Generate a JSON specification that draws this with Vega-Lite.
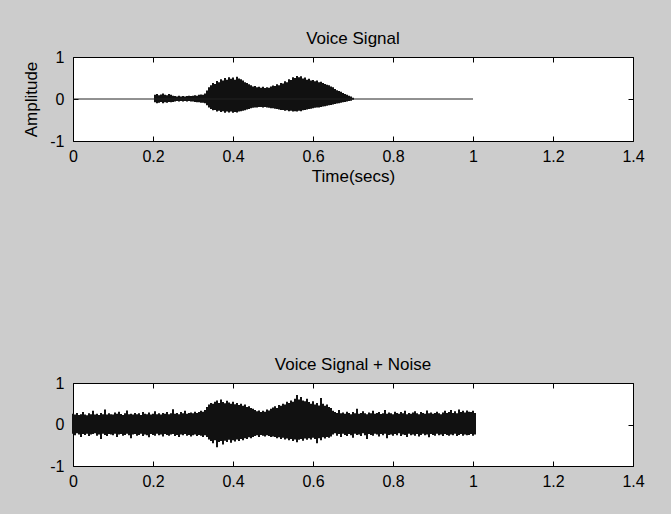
{
  "$schema": "https://vega.github.io/schema/vega-lite/v6.json",
  "background": "#cccccc",
  "padding": {"left": 22, "top": 29, "right": 26, "bottom": 24},
  "spacing": 170,
  "datasets": {
    "sig": [{"t":0.205,"h":0.1,"l":-0.08},{"t":0.21,"h":0.12,"l":-0.1},{"t":0.215,"h":0.09,"l":-0.09},{"t":0.22,"h":0.11,"l":-0.07},{"t":0.225,"h":0.13,"l":-0.1},{"t":0.23,"h":0.1,"l":-0.08},{"t":0.235,"h":0.09,"l":-0.09},{"t":0.24,"h":0.12,"l":-0.07},{"t":0.245,"h":0.1,"l":-0.08},{"t":0.25,"h":0.08,"l":-0.07},
{"t":0.255,"h":0.07,"l":-0.06},{"t":0.26,"h":0.06,"l":-0.05},{"t":0.265,"h":0.08,"l":-0.06},{"t":0.27,"h":0.06,"l":-0.05},{"t":0.275,"h":0.07,"l":-0.06},{"t":0.28,"h":0.06,"l":-0.05},{"t":0.285,"h":0.07,"l":-0.06},{"t":0.29,"h":0.08,"l":-0.05},{"t":0.295,"h":0.07,"l":-0.06},{"t":0.3,"h":0.08,"l":-0.06},
{"t":0.305,"h":0.09,"l":-0.07},{"t":0.31,"h":0.08,"l":-0.08},{"t":0.315,"h":0.1,"l":-0.08},{"t":0.32,"h":0.11,"l":-0.09},{"t":0.325,"h":0.1,"l":-0.09},{"t":0.33,"h":0.13,"l":-0.1},
{"t":0.335,"h":0.2,"l":-0.15},{"t":0.34,"h":0.28,"l":-0.2},{"t":0.345,"h":0.33,"l":-0.24},{"t":0.35,"h":0.38,"l":-0.27},{"t":0.355,"h":0.36,"l":-0.26},{"t":0.36,"h":0.43,"l":-0.3},{"t":0.365,"h":0.4,"l":-0.28},{"t":0.37,"h":0.47,"l":-0.31},{"t":0.375,"h":0.44,"l":-0.29},{"t":0.38,"h":0.5,"l":-0.33},{"t":0.385,"h":0.46,"l":-0.3},{"t":0.39,"h":0.52,"l":-0.32},{"t":0.395,"h":0.48,"l":-0.3},{"t":0.4,"h":0.51,"l":-0.33},{"t":0.405,"h":0.46,"l":-0.31},{"t":0.41,"h":0.53,"l":-0.32},{"t":0.415,"h":0.49,"l":-0.3},{"t":0.42,"h":0.47,"l":-0.29},
{"t":0.425,"h":0.44,"l":-0.28},{"t":0.43,"h":0.4,"l":-0.27},{"t":0.435,"h":0.38,"l":-0.25},{"t":0.44,"h":0.35,"l":-0.24},{"t":0.445,"h":0.33,"l":-0.22},{"t":0.45,"h":0.3,"l":-0.21},{"t":0.455,"h":0.31,"l":-0.2},{"t":0.46,"h":0.28,"l":-0.2},{"t":0.465,"h":0.29,"l":-0.19},{"t":0.47,"h":0.27,"l":-0.19},{"t":0.475,"h":0.29,"l":-0.2},{"t":0.48,"h":0.26,"l":-0.19},{"t":0.485,"h":0.28,"l":-0.2},{"t":0.49,"h":0.27,"l":-0.21},{"t":0.495,"h":0.3,"l":-0.22},{"t":0.5,"h":0.32,"l":-0.22},
{"t":0.505,"h":0.31,"l":-0.23},{"t":0.51,"h":0.35,"l":-0.24},{"t":0.515,"h":0.33,"l":-0.25},{"t":0.52,"h":0.38,"l":-0.26},{"t":0.525,"h":0.37,"l":-0.26},{"t":0.53,"h":0.42,"l":-0.28},{"t":0.535,"h":0.4,"l":-0.27},{"t":0.54,"h":0.47,"l":-0.29},{"t":0.545,"h":0.45,"l":-0.28},{"t":0.55,"h":0.52,"l":-0.3},{"t":0.555,"h":0.5,"l":-0.29},{"t":0.56,"h":0.55,"l":-0.3},{"t":0.565,"h":0.52,"l":-0.28},{"t":0.57,"h":0.54,"l":-0.29},{"t":0.575,"h":0.49,"l":-0.27},{"t":0.58,"h":0.51,"l":-0.26},{"t":0.585,"h":0.46,"l":-0.25},{"t":0.59,"h":0.48,"l":-0.24},{"t":0.595,"h":0.44,"l":-0.23},{"t":0.6,"h":0.45,"l":-0.22},
{"t":0.605,"h":0.42,"l":-0.21},{"t":0.61,"h":0.44,"l":-0.2},{"t":0.615,"h":0.4,"l":-0.2},{"t":0.62,"h":0.41,"l":-0.19},{"t":0.625,"h":0.38,"l":-0.18},{"t":0.63,"h":0.36,"l":-0.17},{"t":0.635,"h":0.34,"l":-0.16},{"t":0.64,"h":0.33,"l":-0.15},{"t":0.645,"h":0.3,"l":-0.14},{"t":0.65,"h":0.28,"l":-0.13},{"t":0.655,"h":0.24,"l":-0.12},{"t":0.66,"h":0.21,"l":-0.11},{"t":0.665,"h":0.19,"l":-0.1},{"t":0.67,"h":0.17,"l":-0.09},{"t":0.675,"h":0.14,"l":-0.08},{"t":0.68,"h":0.12,"l":-0.07},{"t":0.685,"h":0.1,"l":-0.06},{"t":0.69,"h":0.08,"l":-0.05},{"t":0.695,"h":0.06,"l":-0.04},{"t":0.7,"h":0.03,"l":-0.02}],
    "noisy": [{"t":0,"h":0.26,"l":-0.22},{"t":0.005,"h":0.24,"l":-0.26},{"t":0.01,"h":0.28,"l":-0.21},{"t":0.015,"h":0.23,"l":-0.24},{"t":0.02,"h":0.25,"l":-0.3},{"t":0.025,"h":0.3,"l":-0.23},{"t":0.03,"h":0.24,"l":-0.25},{"t":0.035,"h":0.22,"l":-0.22},{"t":0.04,"h":0.27,"l":-0.28},{"t":0.045,"h":0.25,"l":-0.24},
{"t":0.05,"h":0.33,"l":-0.23},{"t":0.055,"h":0.24,"l":-0.21},{"t":0.06,"h":0.26,"l":-0.27},{"t":0.065,"h":0.23,"l":-0.24},{"t":0.07,"h":0.28,"l":-0.35},{"t":0.075,"h":0.25,"l":-0.22},{"t":0.08,"h":0.36,"l":-0.25},{"t":0.085,"h":0.24,"l":-0.28},{"t":0.09,"h":0.27,"l":-0.23},{"t":0.095,"h":0.25,"l":-0.24},
{"t":0.1,"h":0.24,"l":-0.26},{"t":0.105,"h":0.29,"l":-0.22},{"t":0.11,"h":0.26,"l":-0.3},{"t":0.115,"h":0.31,"l":-0.24},{"t":0.12,"h":0.25,"l":-0.23},{"t":0.125,"h":0.23,"l":-0.27},{"t":0.13,"h":0.27,"l":-0.25},{"t":0.135,"h":0.34,"l":-0.22},{"t":0.14,"h":0.25,"l":-0.26},{"t":0.145,"h":0.26,"l":-0.33},
{"t":0.15,"h":0.24,"l":-0.24},{"t":0.155,"h":0.28,"l":-0.23},{"t":0.16,"h":0.25,"l":-0.27},{"t":0.165,"h":0.27,"l":-0.25},{"t":0.17,"h":0.23,"l":-0.22},{"t":0.175,"h":0.3,"l":-0.28},{"t":0.18,"h":0.26,"l":-0.24},{"t":0.185,"h":0.25,"l":-0.26},{"t":0.19,"h":0.29,"l":-0.31},{"t":0.195,"h":0.24,"l":-0.23},
{"t":0.2,"h":0.26,"l":-0.25},{"t":0.205,"h":0.32,"l":-0.27},{"t":0.21,"h":0.25,"l":-0.22},{"t":0.215,"h":0.27,"l":-0.26},{"t":0.22,"h":0.24,"l":-0.24},{"t":0.225,"h":0.28,"l":-0.29},{"t":0.23,"h":0.26,"l":-0.23},{"t":0.235,"h":0.3,"l":-0.25},{"t":0.24,"h":0.25,"l":-0.27},{"t":0.245,"h":0.27,"l":-0.24},
{"t":0.25,"h":0.37,"l":-0.23},{"t":0.255,"h":0.26,"l":-0.28},{"t":0.26,"h":0.28,"l":-0.25},{"t":0.265,"h":0.25,"l":-0.3},{"t":0.27,"h":0.3,"l":-0.24},{"t":0.275,"h":0.27,"l":-0.26},{"t":0.28,"h":0.33,"l":-0.23},{"t":0.285,"h":0.26,"l":-0.27},{"t":0.29,"h":0.28,"l":-0.25},{"t":0.295,"h":0.29,"l":-0.29},
{"t":0.3,"h":0.27,"l":-0.26},{"t":0.305,"h":0.31,"l":-0.24},{"t":0.31,"h":0.28,"l":-0.28},{"t":0.315,"h":0.3,"l":-0.25},{"t":0.32,"h":0.33,"l":-0.27},{"t":0.325,"h":0.31,"l":-0.3},{"t":0.33,"h":0.35,"l":-0.26},
{"t":0.335,"h":0.42,"l":-0.3},{"t":0.34,"h":0.48,"l":-0.36},{"t":0.345,"h":0.52,"l":-0.4},{"t":0.35,"h":0.5,"l":-0.45},{"t":0.355,"h":0.55,"l":-0.38},{"t":0.36,"h":0.58,"l":-0.55},{"t":0.365,"h":0.52,"l":-0.42},{"t":0.37,"h":0.6,"l":-0.4},{"t":0.375,"h":0.54,"l":-0.48},{"t":0.38,"h":0.51,"l":-0.39},{"t":0.385,"h":0.57,"l":-0.42},{"t":0.39,"h":0.53,"l":-0.37},{"t":0.395,"h":0.5,"l":-0.44},{"t":0.4,"h":0.55,"l":-0.38},{"t":0.405,"h":0.49,"l":-0.41},{"t":0.41,"h":0.52,"l":-0.36},{"t":0.415,"h":0.47,"l":-0.4},{"t":0.42,"h":0.5,"l":-0.35},{"t":0.425,"h":0.45,"l":-0.38},{"t":0.43,"h":0.48,"l":-0.33},{"t":0.435,"h":0.42,"l":-0.35},{"t":0.44,"h":0.44,"l":-0.31},{"t":0.445,"h":0.4,"l":-0.33},{"t":0.45,"h":0.38,"l":-0.3},
{"t":0.455,"h":0.35,"l":-0.28},{"t":0.46,"h":0.32,"l":-0.26},{"t":0.465,"h":0.34,"l":-0.3},{"t":0.47,"h":0.3,"l":-0.25},{"t":0.475,"h":0.33,"l":-0.27},{"t":0.48,"h":0.31,"l":-0.29},{"t":0.485,"h":0.36,"l":-0.26},{"t":0.49,"h":0.34,"l":-0.28},{"t":0.495,"h":0.38,"l":-0.3},{"t":0.5,"h":0.41,"l":-0.29},
{"t":0.505,"h":0.44,"l":-0.3},{"t":0.51,"h":0.4,"l":-0.33},{"t":0.515,"h":0.47,"l":-0.31},{"t":0.52,"h":0.45,"l":-0.35},{"t":0.525,"h":0.5,"l":-0.32},{"t":0.53,"h":0.48,"l":-0.36},{"t":0.535,"h":0.55,"l":-0.34},{"t":0.54,"h":0.52,"l":-0.38},{"t":0.545,"h":0.58,"l":-0.35},{"t":0.55,"h":0.55,"l":-0.4},{"t":0.555,"h":0.62,"l":-0.36},{"t":0.56,"h":0.71,"l":-0.43},{"t":0.565,"h":0.6,"l":-0.37},{"t":0.57,"h":0.66,"l":-0.35},{"t":0.575,"h":0.58,"l":-0.39},{"t":0.58,"h":0.56,"l":-0.34},{"t":0.585,"h":0.62,"l":-0.37},{"t":0.59,"h":0.54,"l":-0.33},{"t":0.595,"h":0.5,"l":-0.36},{"t":0.6,"h":0.56,"l":-0.32},{"t":0.605,"h":0.48,"l":-0.35},{"t":0.61,"h":0.52,"l":-0.45},{"t":0.615,"h":0.46,"l":-0.33},{"t":0.62,"h":0.64,"l":-0.38},{"t":0.625,"h":0.5,"l":-0.31},{"t":0.63,"h":0.45,"l":-0.34},{"t":0.635,"h":0.48,"l":-0.3},{"t":0.64,"h":0.42,"l":-0.32},{"t":0.645,"h":0.4,"l":-0.29},
{"t":0.65,"h":0.33,"l":-0.24},{"t":0.655,"h":0.3,"l":-0.21},{"t":0.66,"h":0.28,"l":-0.27},{"t":0.665,"h":0.35,"l":-0.23},{"t":0.67,"h":0.27,"l":-0.3},{"t":0.675,"h":0.29,"l":-0.22},{"t":0.68,"h":0.26,"l":-0.25},{"t":0.685,"h":0.31,"l":-0.28},{"t":0.69,"h":0.28,"l":-0.23},{"t":0.695,"h":0.25,"l":-0.26},
{"t":0.7,"h":0.3,"l":-0.32},{"t":0.705,"h":0.27,"l":-0.22},{"t":0.71,"h":0.38,"l":-0.25},{"t":0.715,"h":0.26,"l":-0.24},{"t":0.72,"h":0.28,"l":-0.28},{"t":0.725,"h":0.32,"l":-0.21},{"t":0.73,"h":0.27,"l":-0.26},{"t":0.735,"h":0.25,"l":-0.35},{"t":0.74,"h":0.29,"l":-0.23},{"t":0.745,"h":0.27,"l":-0.25},
{"t":0.75,"h":0.33,"l":-0.27},{"t":0.755,"h":0.26,"l":-0.22},{"t":0.76,"h":0.28,"l":-0.24},{"t":0.765,"h":0.3,"l":-0.29},{"t":0.77,"h":0.25,"l":-0.23},{"t":0.775,"h":0.27,"l":-0.26},{"t":0.78,"h":0.35,"l":-0.22},{"t":0.785,"h":0.26,"l":-0.33},{"t":0.79,"h":0.29,"l":-0.25},{"t":0.795,"h":0.27,"l":-0.24},
{"t":0.8,"h":0.25,"l":-0.27},{"t":0.805,"h":0.31,"l":-0.23},{"t":0.81,"h":0.28,"l":-0.26},{"t":0.815,"h":0.26,"l":-0.21},{"t":0.82,"h":0.3,"l":-0.28},{"t":0.825,"h":0.27,"l":-0.24},{"t":0.83,"h":0.33,"l":-0.25},{"t":0.835,"h":0.25,"l":-0.3},{"t":0.84,"h":0.28,"l":-0.22},{"t":0.845,"h":0.26,"l":-0.26},
{"t":0.85,"h":0.29,"l":-0.24},{"t":0.855,"h":0.32,"l":-0.27},{"t":0.86,"h":0.27,"l":-0.23},{"t":0.865,"h":0.25,"l":-0.29},{"t":0.87,"h":0.3,"l":-0.25},{"t":0.875,"h":0.28,"l":-0.22},{"t":0.88,"h":0.26,"l":-0.26},{"t":0.885,"h":0.34,"l":-0.24},{"t":0.89,"h":0.27,"l":-0.31},{"t":0.895,"h":0.29,"l":-0.23},
{"t":0.9,"h":0.26,"l":-0.25},{"t":0.905,"h":0.28,"l":-0.27},{"t":0.91,"h":0.31,"l":-0.22},{"t":0.915,"h":0.27,"l":-0.26},{"t":0.92,"h":0.25,"l":-0.24},{"t":0.925,"h":0.29,"l":-0.28},{"t":0.93,"h":0.33,"l":-0.23},{"t":0.935,"h":0.28,"l":-0.25},{"t":0.94,"h":0.3,"l":-0.27},{"t":0.945,"h":0.35,"l":-0.24},
{"t":0.95,"h":0.28,"l":-0.26},{"t":0.955,"h":0.32,"l":-0.22},{"t":0.96,"h":0.27,"l":-0.28},{"t":0.965,"h":0.36,"l":-0.25},{"t":0.97,"h":0.3,"l":-0.23},{"t":0.975,"h":0.33,"l":-0.27},{"t":0.98,"h":0.29,"l":-0.24},{"t":0.985,"h":0.34,"l":-0.26},{"t":0.99,"h":0.31,"l":-0.25},{"t":0.995,"h":0.3,"l":-0.23},{"t":1.0,"h":0.33,"l":-0.27},{"t":1.005,"h":0.28,"l":-0.24}],
    "zero": [{"a":0,"b":1,"y":0}]
  },
  "vconcat": [
    {
      "title": "Voice Signal",
      "width": 560,
      "height": 84,
      "layer": [
        {
          "data": {"name": "sig"},
          "mark": {"type": "rule", "strokeWidth": 2, "color": "#111111"},
          "encoding": {
            "x": {"field": "t", "type": "quantitative", "scale": {"domain": [0, 1.4], "nice": false},
              "axis": {"orient": "bottom", "values": [0, 0.2, 0.4, 0.6, 0.8, 1, 1.2, 1.4], "labelExpr": "'' + datum.value", "title": "Time(secs)", "labelPadding": 12, "titlePadding": 4}},
            "y": {"field": "l", "type": "quantitative", "scale": {"domain": [-1, 1], "nice": false},
              "axis": {"orient": "left", "values": [-1, 0, 1], "labelExpr": "'' + datum.value", "title": "Amplitude", "labelPadding": 14, "titlePadding": 9}},
            "y2": {"field": "h"}
          }
        },
        {
          "data": {"name": "zero"},
          "mark": {"type": "rule", "strokeWidth": 1, "color": "#222222"},
          "encoding": {
            "x": {"field": "a", "type": "quantitative", "axis": {"orient": "top", "values": [0, 0.2, 0.4, 0.6, 0.8, 1, 1.2, 1.4], "labels": false, "title": null}},
            "x2": {"field": "b"},
            "y": {"field": "y", "type": "quantitative", "axis": {"orient": "right", "values": [-1, 0, 1], "labels": false, "title": null}}
          }
        }
      ],
      "resolve": {"axis": {"x": "independent", "y": "independent"}}
    },
    {
      "title": "Voice Signal + Noise",
      "width": 560,
      "height": 83,
      "layer": [
        {
          "data": {"name": "noisy"},
          "mark": {"type": "rule", "strokeWidth": 2, "color": "#111111"},
          "encoding": {
            "x": {"field": "t", "type": "quantitative", "scale": {"domain": [0, 1.4], "nice": false},
              "axis": {"orient": "bottom", "values": [0, 0.2, 0.4, 0.6, 0.8, 1, 1.2, 1.4], "labelExpr": "'' + datum.value", "title": null, "labelPadding": 12}},
            "y": {"field": "l", "type": "quantitative", "scale": {"domain": [-1, 1], "nice": false},
              "axis": {"orient": "left", "values": [-1, 0, 1], "labelExpr": "'' + datum.value", "title": null, "labelPadding": 14}},
            "y2": {"field": "h"}
          }
        },
        {
          "data": {"name": "zero"},
          "mark": {"type": "rule", "strokeWidth": 1, "color": "#111111"},
          "encoding": {
            "x": {"field": "a", "type": "quantitative", "axis": {"orient": "top", "values": [0, 0.2, 0.4, 0.6, 0.8, 1, 1.2, 1.4], "labels": false, "title": null}},
            "x2": {"field": "b"},
            "y": {"field": "y", "type": "quantitative", "axis": {"orient": "right", "values": [-1, 0, 1], "labels": false, "title": null}}
          }
        }
      ],
      "resolve": {"axis": {"x": "independent", "y": "independent"}}
    }
  ],
  "config": {
    "view": {"stroke": "#000000", "strokeWidth": 1, "fill": "#ffffff"},
    "axis": {
      "domain": false, "grid": false, "tickSize": -5, "tickColor": "#000000", "tickWidth": 1,
      "labelFont": "Liberation Sans", "labelFontSize": 16, "labelColor": "#000000", "labelFlush": false, "labelOverlap": false,
      "titleFont": "Liberation Sans", "titleFontSize": 17, "titleFontWeight": "normal", "titleColor": "#000000"
    },
    "title": {"font": "Liberation Sans", "fontSize": 17, "fontWeight": "normal", "color": "#000000", "offset": 1, "anchor": "middle"}
  }
}
